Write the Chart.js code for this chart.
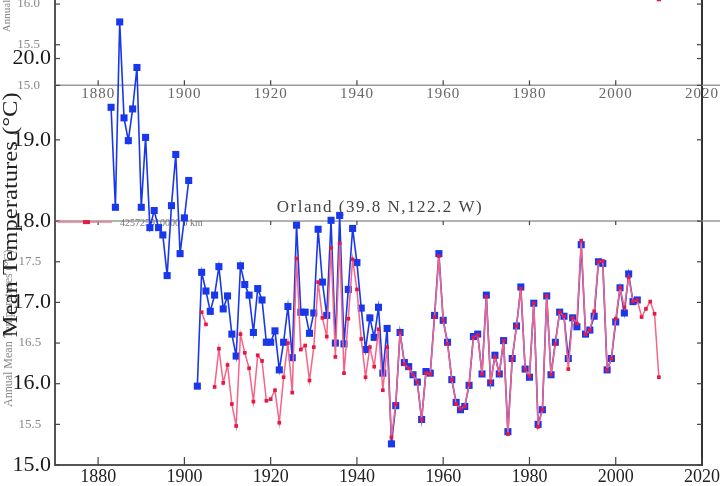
<!DOCTYPE html>
<html>
<head>
<meta charset="utf-8">
<script src="https://cdn.jsdelivr.net/npm/chart.js@4.4.1/dist/chart.umd.min.js"></script>
<style>
  html, body { margin: 0; padding: 0; background: #fff; }
  #wrap { width: 720px; height: 486px; position: relative; }
</style>
</head>
<body>
<div id="wrap"><canvas id="myChart"></canvas></div>
<script>
const years = [
  1883, 1884, 1885, 1886, 1887, 1888, 1889,
  1890, 1891, 1892, 1893, 1894, 1895, 1896, 1897, 1898, 1899,
  1900, 1901, 1902, 1903, 1904, 1905, 1906, 1907, 1908, 1909,
  1910, 1911, 1912, 1913, 1914, 1915, 1916, 1917, 1918, 1919,
  1920, 1921, 1922, 1923, 1924, 1925, 1926, 1927, 1928, 1929,
  1930, 1931, 1932, 1933, 1934, 1935, 1936, 1937, 1938, 1939,
  1940, 1941, 1942, 1943, 1944, 1945, 1946, 1947, 1948, 1949,
  1950, 1951, 1952, 1953, 1954, 1955, 1956, 1957, 1958, 1959,
  1960, 1961, 1962, 1963, 1964, 1965, 1966, 1967, 1968, 1969,
  1970, 1971, 1972, 1973, 1974, 1975, 1976, 1977, 1978, 1979,
  1980, 1981, 1982, 1983, 1984, 1985, 1986, 1987, 1988, 1989,
  1990, 1991, 1992, 1993, 1994, 1995, 1996, 1997, 1998, 1999,
  2000, 2001, 2002, 2003, 2004, 2005, 2006, 2007, 2008, 2009,
  2010
];

// blue series (squares)
const blueTemps = [
  19.40, 18.17, 20.45, 19.27, 18.99, 19.38, 19.89,
  18.17, 19.03, 17.92, 18.13, 17.92, 17.83, 17.33, 18.19, 18.82, 17.60,
  18.04, 18.50, null, 15.97, 17.37, 17.14, 16.89, 17.09, 17.44, 16.92,
  17.08, 16.61, 16.34, 17.45, 17.22, 17.09, 16.63, 17.17, 17.03, 16.51,
  16.51, 16.65, 16.17, 16.51, 16.95, 16.32, 17.95, 16.88, 16.88, 16.62,
  16.87, 17.90, 17.25, 16.84, 18.01, 16.50, 18.07, 16.49, 17.16, 17.91,
  17.49, 16.93, 16.42, 16.81, 16.57, 16.94, 16.13, 16.68, 15.26, 15.73,
  16.63, 16.26, 16.21, 16.11, 16.02, 15.56, 16.15, 16.13, 16.84, 17.60,
  16.78, 16.51, 16.05, 15.77, 15.68, 15.72, 15.98, 16.58, 16.61, 16.12,
  17.09, 16.01, 16.35, 16.12, 16.53, 15.41, 16.31, 16.71, 17.19, 16.18,
  16.08, 16.99, 15.50, 15.68, 17.08, 16.11, 16.51, 16.88, 16.83, 16.31,
  16.81, 16.70, 17.71, 16.61, 16.66, 16.83, 17.50, 17.48, 16.17, 16.31,
  16.76, 17.18, 16.87, 17.35, 17.01, 17.03, null, null, null, null,
  null
];

// red series (small marks)
const redTemps = [
  null, null, null, null, null, null, null,
  null, null, null, null, null, null, null, null, null, null,
  null, null, null, null, 16.88, 16.73, null, 15.96, 16.43, 16.01,
  16.23, 15.75, 15.48, 16.61, 16.38, 16.19, 15.78, 16.35, 16.28, 15.79,
  15.81, 15.92, 15.52, 16.08, 16.50, 15.89, 17.54, 16.42, 16.47, 16.04,
  16.45, 17.25, 16.81, 16.58, 17.67, 16.33, 17.73, 16.13, 16.80, 17.53,
  17.16, 16.55, 16.08, 16.45, 16.21, 16.67, 15.92, 16.45, 15.34, 15.75,
  16.63, 16.24, 16.19, 16.11, 16.02, 15.56, 16.13, 16.12, 16.82, 17.57,
  16.78, 16.49, 16.05, 15.75, 15.69, 15.72, 15.99, 16.57, 16.60, 16.12,
  17.07, 16.02, 16.33, 16.12, 16.53, 15.38, 16.30, 16.71, 17.17, 16.18,
  16.09, 16.99, 15.47, 15.68, 17.08, 16.11, 16.49, 16.88, 16.83, 16.18,
  16.81, 16.74, 17.76, 16.61, 16.66, 16.89, 17.50, 17.51, 16.17, 16.31,
  16.80, 17.18, 16.94, 17.31, 17.01, 17.03, 16.82, 16.92, 17.01, 16.86,
  16.08
];

// stray red mark of the overlapping panel at the top
const overlayYears = [2010];
const overlayTemps = [20.73];

const xTickYears = [1880, 1900, 1920, 1940, 1960, 1980, 2000, 2020];
const yTickValues = [15, 15.5, 16, 16.5, 17, 17.5, 18, 19, 20];
// tick labels of the second panel showing through at the top
const overlayTickValues = [19.67, 20.17, 20.67];
const overlayTickLabels = ["15.0", "15.5", "16.0"];
const overlayAxisValue = 19.67;

const SERIF = '"Liberation Serif", "DejaVu Serif", serif';

function toPoints(xs, ys) {
  return xs.map((x, i) => ({ x: x, y: ys[i] }));
}

function isMajor(c) {
  return !c.tick || Number.isInteger(c.tick.value);
}

function noPad(scale) {
  scale.paddingTop = 0;
  scale.paddingBottom = 0;
  scale.paddingLeft = 0;
  scale.paddingRight = 0;
}

function hline(ctx, x1, x2, y) {
  ctx.beginPath();
  ctx.moveTo(x1, y);
  ctx.lineTo(x2, y);
  ctx.stroke();
}

function vline(ctx, x, y1, y2) {
  ctx.beginPath();
  ctx.moveTo(x, y1);
  ctx.lineTo(x, y2);
  ctx.stroke();
}

function rotatedText(ctx, text, x, y, font, color, align, stretch) {
  ctx.save();
  ctx.translate(x, y);
  ctx.rotate(-Math.PI / 2);
  ctx.scale(stretch, 1);
  ctx.fillStyle = color;
  ctx.font = font;
  ctx.textAlign = align;
  ctx.textBaseline = "middle";
  ctx.fillText(text, 0, 0);
  ctx.restore();
}

const decor = {
  id: "decor",
  beforeDatasetsDraw(chart) {
    const ctx = chart.ctx;
    const xs = chart.scales.x;
    const ys = chart.scales.y;
    const a = chart.chartArea;
    const yTop = ys.getPixelForValue(overlayAxisValue);
    const y18 = ys.getPixelForValue(18);
    ctx.save();

    // the two stray horizontal axis lines
    ctx.strokeStyle = "#9a9a9a";
    ctx.lineWidth = 1.5;
    hline(ctx, a.left, chart.width, yTop);
    hline(ctx, a.left, chart.width, y18);

    // inward tick marks
    ctx.strokeStyle = "#444";
    ctx.lineWidth = 1.2;
    yTickValues.concat(overlayTickValues).forEach(v => {
      const py = ys.getPixelForValue(v);
      hline(ctx, a.left, a.left + 5, py);
      hline(ctx, a.right - 5, a.right, py);
    });
    xTickYears.forEach(v => {
      const px = xs.getPixelForValue(v);
      vline(ctx, px, a.bottom, a.bottom - 8);
      vline(ctx, px, yTop, yTop - 5);
      vline(ctx, px, y18, y18 + 4);
    });

    // year labels of the upper panel
    ctx.fillStyle = "#666";
    ctx.font = "15px " + SERIF;
    ctx.letterSpacing = "1px";
    ctx.textAlign = "center";
    ctx.textBaseline = "middle";
    xTickYears.forEach(v => {
      ctx.fillText(String(v), xs.getPixelForValue(v), yTop + 9);
    });
    ctx.letterSpacing = "0px";

    // value labels of the upper panel
    ctx.fillStyle = "#888";
    ctx.font = "13px " + SERIF;
    ctx.textAlign = "right";
    overlayTickValues.forEach((v, i) => {
      ctx.fillText(overlayTickLabels[i], 40, ys.getPixelForValue(v));
    });

    // station title
    ctx.fillStyle = "#444";
    ctx.font = "17px " + SERIF;
    ctx.letterSpacing = "1.5px";
    ctx.textAlign = "center";
    ctx.fillText("Orland (39.8 N,122.2 W)", 380, y18 - 14);
    ctx.letterSpacing = "0px";

    // legend entry
    ctx.strokeStyle = "rgb(245,120,150)";
    ctx.lineWidth = 1.5;
    hline(ctx, a.left + 2, a.left + 57, y18 + 1);
    ctx.fillStyle = "rgb(225,30,70)";
    ctx.fillRect(a.left + 28, y18 - 1, 7, 4);
    ctx.fillStyle = "#777";
    ctx.font = "10px " + SERIF;
    ctx.textAlign = "left";
    ctx.fillText("425725910000 0 km", a.left + 65, y18 + 2);

    // axis titles of both panels
    rotatedText(ctx, "Annual Mean Temperatures (\u00B0C)", 9, 407, "12px " + SERIF, "#888", "left", 1);
    rotatedText(ctx, "Mean Temperatures (\u00B0C)", 11, yTop + 7, "22px " + SERIF, "#222", "right", 1.12);
    rotatedText(ctx, "Annual", 7, 16, "11px " + SERIF, "#888", "center", 1);

    ctx.restore();
  }
};

const config = {
  type: "line",
  data: {
    datasets: [
      {
        label: "red",
        data: toPoints(years, redTemps),
        borderColor: "rgb(245,100,135)",
        backgroundColor: "rgb(228,25,70)",
        borderWidth: 1.5,
        pointStyle: "rect",
        pointRadius: 2.6,
        pointBorderWidth: 0,
        spanGaps: false,
      },
      {
        label: "blue",
        data: toPoints(years, blueTemps),
        borderColor: "rgb(25,55,235)",
        backgroundColor: "rgb(25,55,235)",
        borderWidth: 1.6,
        pointStyle: "rect",
        pointRadius: 5,
        pointBorderWidth: 0,
        spanGaps: false,
      },
      {
        label: "overlay",
        data: toPoints(overlayYears, overlayTemps),
        showLine: false,
        backgroundColor: "rgb(228,25,70)",
        pointStyle: "rect",
        pointRadius: 3,
        pointBorderWidth: 0,
      },
    ],
  },
  options: {
    responsive: true,
    maintainAspectRatio: false,
    animation: false,
    layout: { padding: 0, autoPadding: false },
    plugins: {
      legend: { display: false },
      tooltip: { enabled: false },
      title: { display: false },
    },
    scales: {
      x: {
        type: "linear",
        position: "bottom",
        min: 1870,
        max: 2020,
        afterBuildTicks: (scale) => {
          scale.ticks = xTickYears.map(v => ({ value: v }));
        },
        afterFit: (scale) => { scale.height = 21; noPad(scale); },
        grid: { display: false, drawTicks: false },
        border: { display: true, color: "#555", width: 2 },
        ticks: {
          autoSkip: false,
          maxRotation: 0,
          padding: 1,
          color: "#222",
          font: { family: SERIF, size: 18 },
          callback: (v) => String(v),
        },
      },
      y: {
        type: "linear",
        position: "left",
        min: 15,
        max: 20.72,
        afterBuildTicks: (scale) => {
          scale.ticks = yTickValues.map(v => ({ value: v }));
        },
        afterFit: (scale) => { scale.width = 55; noPad(scale); },
        grid: { display: false, drawTicks: false },
        border: { display: true, color: "#555", width: 2 },
        ticks: {
          autoSkip: false,
          padding: 4,
          color: (c) => isMajor(c) ? "#1a1a1a" : "#888",
          font: (c) => isMajor(c)
            ? { family: SERIF, size: 22 }
            : { family: SERIF, size: 13 },
          callback: (v) => Number.isInteger(v) ? v.toFixed(1) : v.toFixed(1) + "   ",
        },
      },
      yR: {
        type: "linear",
        position: "right",
        min: 15,
        max: 20.72,
        afterFit: (scale) => { scale.width = 18; noPad(scale); },
        grid: { display: false, drawTicks: false },
        border: { display: true, color: "#333", width: 2 },
        ticks: { display: false },
      },
    },
  },
  plugins: [decor],
};

const myChart = new Chart(document.getElementById("myChart"), config);
</script>
</body>
</html>
